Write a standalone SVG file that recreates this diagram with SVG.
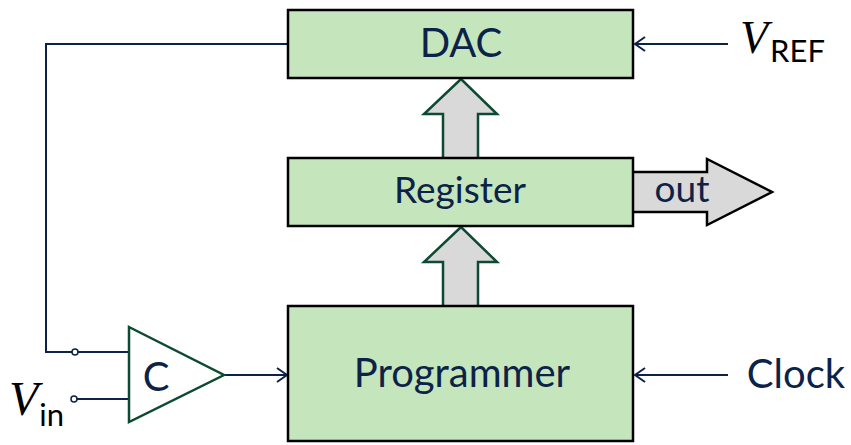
<svg xmlns="http://www.w3.org/2000/svg" width="851" height="445" viewBox="0 0 851 445">
  <style>
    .box { fill: #c5e5bd; stroke: #000; stroke-width: 2.5; }
    .lbl { font-family: Lato, "Open Sans", sans-serif; fill: #0d2248; text-anchor: middle; }
    .bus { fill: #d9d9d9; stroke: #0d4a32; stroke-width: 2.5; stroke-linejoin: miter; }
    .out { fill: #d9d9d9; stroke: #000; stroke-width: 2.5; }
    .wire { fill: none; stroke: #0d2248; stroke-width: 2; }
    .math { font-family: "Liberation Serif", "DejaVu Serif", serif; font-style: italic; fill: #000; }
    .sub { font-family: Lato, "Open Sans", sans-serif; fill: #000; }
    .pin { fill: #fff; stroke: #0d2248; stroke-width: 1.5; }
  </style>
  <defs>
    <marker id="arr" viewBox="0 0 12 16" refX="11" refY="8" markerWidth="12" markerHeight="16" markerUnits="userSpaceOnUse" orient="auto">
      <path d="M1,1 L11,8 L1,15" fill="none" stroke="#0d2248" stroke-width="2"/>
    </marker>
  </defs>

  <!-- signal wires -->
  <g id="connectors">
    <path class="wire" d="M288,44 H46 V352 H129"/>
    <path class="wire" d="M74,399 H129"/>
    <path class="wire" d="M224,375 H287" marker-end="url(#arr)"/>
    <path class="wire" d="M728,44 H635" marker-end="url(#arr)"/>
    <path class="wire" d="M728,375 H635" marker-end="url(#arr)"/>
    <circle class="pin" cx="75" cy="352" r="3"/>
    <circle class="pin" cx="74" cy="399" r="3"/>
    <!-- data buses -->
    <path class="bus" d="M443,158 V114 H424 L461,79 L497,114 H478 V158"/>
    <path class="bus" d="M443,306 V262 H424 L461,227 L497,262 H478 V306"/>
    <path class="out" d="M633,172 H707 V159 L772,192 L707,225 V212 H633"/>
    <text class="lbl" x="682" y="202" font-size="37">out</text>
  </g>

  <g id="dac">
    <rect class="box" x="288" y="10" width="345" height="68"/>
    <text class="lbl" x="461" y="57" font-size="40">DAC</text>
  </g>

  <g id="register">
    <rect class="box" x="288" y="158" width="345" height="68"/>
    <text class="lbl" x="460" y="203" font-size="37">Register</text>
  </g>

  <g id="programmer">
    <rect class="box" x="288" y="306" width="345" height="135"/>
    <text class="lbl" x="462" y="387" font-size="40">Programmer</text>
  </g>

  <g id="comparator">
    <path d="M129,327 L224,375 L129,422 Z" fill="#fff" stroke="#0d4a32" stroke-width="2.5"/>
    <text class="lbl" x="156" y="391" font-size="40">C</text>
  </g>

  <g id="vref">
    <text x="740" y="53"><tspan class="math" font-size="46">V</tspan><tspan class="sub" font-size="31" dx="2" dy="9">REF</tspan></text>
  </g>

  <g id="vin">
    <text x="9" y="415"><tspan class="math" font-size="48">V</tspan><tspan class="sub" font-size="31" dx="1" dy="11">in</tspan></text>
  </g>

  <g id="clock">
    <text class="lbl" x="796" y="388" font-size="40">Clock</text>
  </g>
</svg>
